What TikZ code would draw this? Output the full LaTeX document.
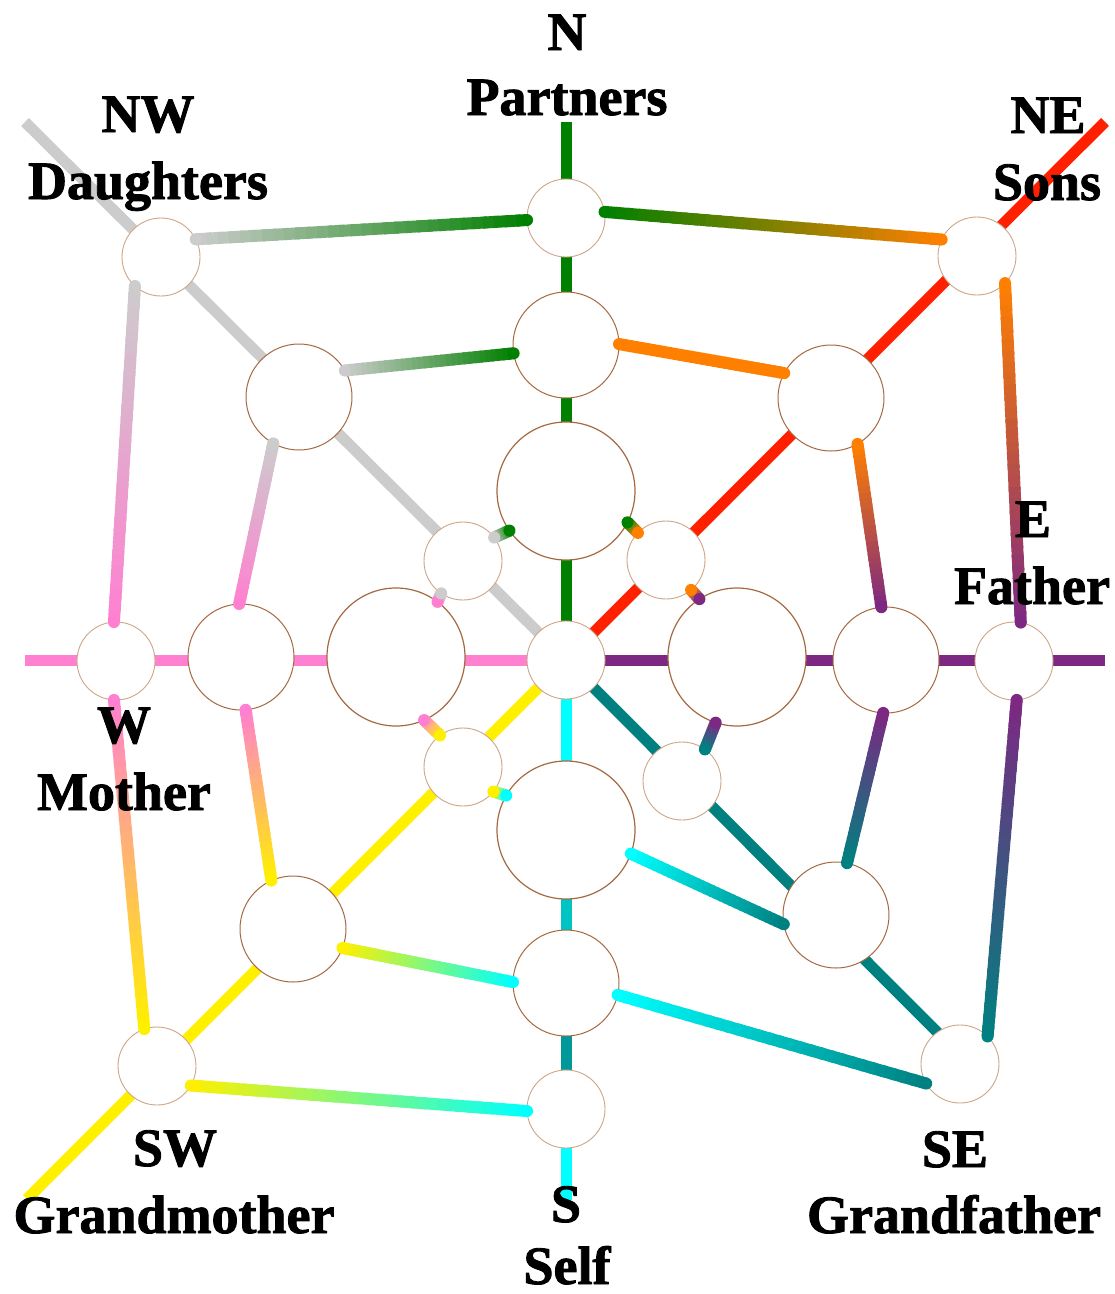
\documentclass[tikz,border=0pt]{standalone}
\usepackage{fontspec}
\setmainfont{Liberation Serif}
\newfontfamily\labfont{Liberation Serif Bold}[FakeBold=1.6]
\usetikzlibrary{calc}
\pgfdeclarelayer{bg}
\pgfsetlayers{bg,main}
\definecolor{cgreen}{RGB}{0,128,0}
\definecolor{cgray}{RGB}{204,204,204}
\definecolor{cred}{RGB}{255,32,0}
\definecolor{corange}{RGB}{255,128,0}
\definecolor{cpurple}{RGB}{125,40,130}
\definecolor{cteal}{RGB}{0,128,128}
\definecolor{ccyan}{RGB}{0,255,255}
\definecolor{cyellow}{RGB}{255,240,0}
\definecolor{cpink}{RGB}{255,128,208}
\definecolor{cmidteal}{RGB}{0,196,196}
\definecolor{cdarkteal}{RGB}{0,152,152}
\definecolor{cedge}{RGB}{165,105,65}
\definecolor{cedgelight}{RGB}{205,165,135}
\tikzset{
  ringnode/.style={circle, fill=white, inner sep=0pt, outer sep=0pt},
  bignode/.style={ringnode, minimum size=138pt, draw=cedge, line width=1.2pt},
  midnode/.style={ringnode, minimum size=106pt, draw=cedge, line width=1pt},
  smallnode/.style={ringnode, minimum size=78pt, draw=cedgelight, line width=0.9pt},
  spoke/.style={line width=11pt, line cap=butt},
  conn/.style={line width=12pt, line cap=butt},
  lab/.style={anchor=base, inner sep=0pt, font=\fontsize{54}{60}\labfont}
}
\newcommand\gconn[4]{%
  \foreach \i in {0,...,29}{%
    \pgfmathsetmacro\ta{\i/30}%
    \pgfmathsetmacro\tb{min((\i+1.4)/30,1)}%
    \pgfmathtruncatemacro\pc{round(100-100*(\i+0.5)/30)}%
    \draw[conn,draw=#3!\pc!#4] ($(#1)!\ta!(#2)$) -- ($(#1)!\tb!(#2)$);
  }%
  \fill[#3] (#1) circle[radius=6pt];
  \fill[#4] (#2) circle[radius=6pt];
}
\begin{document}
\begin{tikzpicture}[x=1pt,y=-1pt]
\useasboundingbox (0,0) rectangle (1115,1294);
% circles
\node[smallnode] (c) at (566,660) {};
\node[bignode] (nb) at (566,491) {};
\node[bignode] (wb) at (396,657) {};
\node[bignode] (eb) at (737,657) {};
\node[bignode] (sb) at (566,830) {};
\node[smallnode] (nws) at (463,561) {};
\node[smallnode] (nes) at (666,560) {};
\node[smallnode] (sws) at (463,767) {};
\node[smallnode] (ses) at (682,781) {};
\node[midnode] (n2) at (566,345) {};
\node[midnode] (nw2) at (299,397) {};
\node[midnode] (ne2) at (831,398) {};
\node[midnode] (w2) at (241,657) {};
\node[midnode] (e2) at (886,660) {};
\node[midnode] (sw2) at (293,929) {};
\node[midnode] (se2) at (836,915) {};
\node[midnode] (s2) at (566,983) {};
\node[smallnode] (n3) at (566,218) {};
\node[smallnode] (nw3) at (161,257) {};
\node[smallnode] (ne3) at (977,256) {};
\node[smallnode] (w3) at (116,661) {};
\node[smallnode] (e3) at (1014,661) {};
\node[smallnode] (sw3) at (157,1066) {};
\node[smallnode] (se3) at (960,1064) {};
\node[smallnode] (s3) at (566,1109) {};
% spoke ends
\coordinate (nEnd) at (566,122);
\coordinate (neEnd) at (1105,122);
\coordinate (eEnd) at (1105,660);
\coordinate (seEnd) at (958,1053);
\coordinate (sEnd) at (566,1200);
\coordinate (swEnd) at (27,1199);
\coordinate (wEnd) at (25,660);
\coordinate (nwEnd) at (25,122);
\begin{pgfonlayer}{bg}
\fill[white] (0,0) rectangle (1115,1294);
\draw[spoke,cgreen] (c.center) -- (nEnd);
\draw[spoke,cred] (c.center) -- (neEnd);
\draw[spoke,cpurple] (c.center) -- (eEnd);
\draw[spoke,cteal] (c.center) -- (seEnd);
\draw[spoke,cyellow] (c.center) -- (swEnd);
\draw[spoke,cpink] (c.center) -- (wEnd);
\draw[spoke,cgray] (c.center) -- (nwEnd);
\draw[spoke,ccyan] (c.center) -- (sb.center);
\draw[spoke,cmidteal] (sb.center) -- (s2.center);
\draw[spoke,cdarkteal] (s2.center) -- (s3.center);
\draw[spoke,ccyan] (s3.center) -- (sEnd);
\end{pgfonlayer}
% outer ring
\gconn{nw3.27}{n3.183}{cgray}{cgreen}
\gconn{n3.9}{ne3.155}{cgreen}{corange}
\gconn{ne3.316}{e3.80}{corange}{cpurple}
\gconn{e3.274}{se3.45}{cpurple}{cteal}
\gconn{se3.210}{s2.347}{cteal}{ccyan}
\gconn{s3.183}{sw3.330}{ccyan}{cyellow}
\gconn{sw3.109}{w3.267}{cyellow}{cpink}
\gconn{w3.93}{nw3.228}{cpink}{cgray}
% middle ring
\gconn{nw2.30}{n2.189}{cgray}{cgreen}
\gconn{n2.1}{ne2.152}{corange}{corange}
\gconn{ne2.300}{e2.95}{corange}{cpurple}
\gconn{e2.267}{se2.78}{cpurple}{cteal}
\gconn{se2.190}{sb.340}{cteal}{ccyan}
\gconn{s2.179}{sw2.339}{ccyan}{cyellow}
\gconn{sw2.114}{w2.275}{cyellow}{cpink}
\gconn{w2.92}{nw2.241}{cpink}{cgray}
% inner stubs
\gconn{nws.37}{nb.215}{cgray}{cgreen}
\gconn{nb.333}{nes.136}{cgreen}{corange}
\gconn{nes.310}{eb.123}{corange}{cpurple}
\gconn{eb.252}{ses.54}{cpurple}{cteal}
\gconn{sws.321}{sb.150}{cyellow}{ccyan}
\gconn{wb.294}{sws.126}{cpink}{cyellow}
\gconn{wb.53}{nws.236}{cpink}{cgray}
% labels
\node[lab] (lN) at (567,50) {N};
\node[lab] (lNt) at (567,115) {Partners};
\node[lab] (lNW) at (148,132) {NW};
\node[lab] (lNWt) at (148,199) {Daughters};
\node[lab] (lNE) at (1048,133) {NE};
\node[lab] (lNEt) at (1047,200) {Sons};
\node[lab] (lE) at (1033,537) {E};
\node[lab] (lEt) at (1032,604) {Father};
\node[lab] (lW) at (124,743) {W};
\node[lab] (lWt) at (124,810) {Mother};
\node[lab] (lSW) at (175,1166) {SW};
\node[lab] (lSWt) at (174,1233) {Grandmother};
\node[lab] (lS) at (566,1222) {S};
\node[lab] (lSt) at (567,1284) {Self};
\node[lab] (lSE) at (955,1167) {SE};
\node[lab] (lSEt) at (954,1233) {Grandfather};
\end{tikzpicture}
\end{document}
